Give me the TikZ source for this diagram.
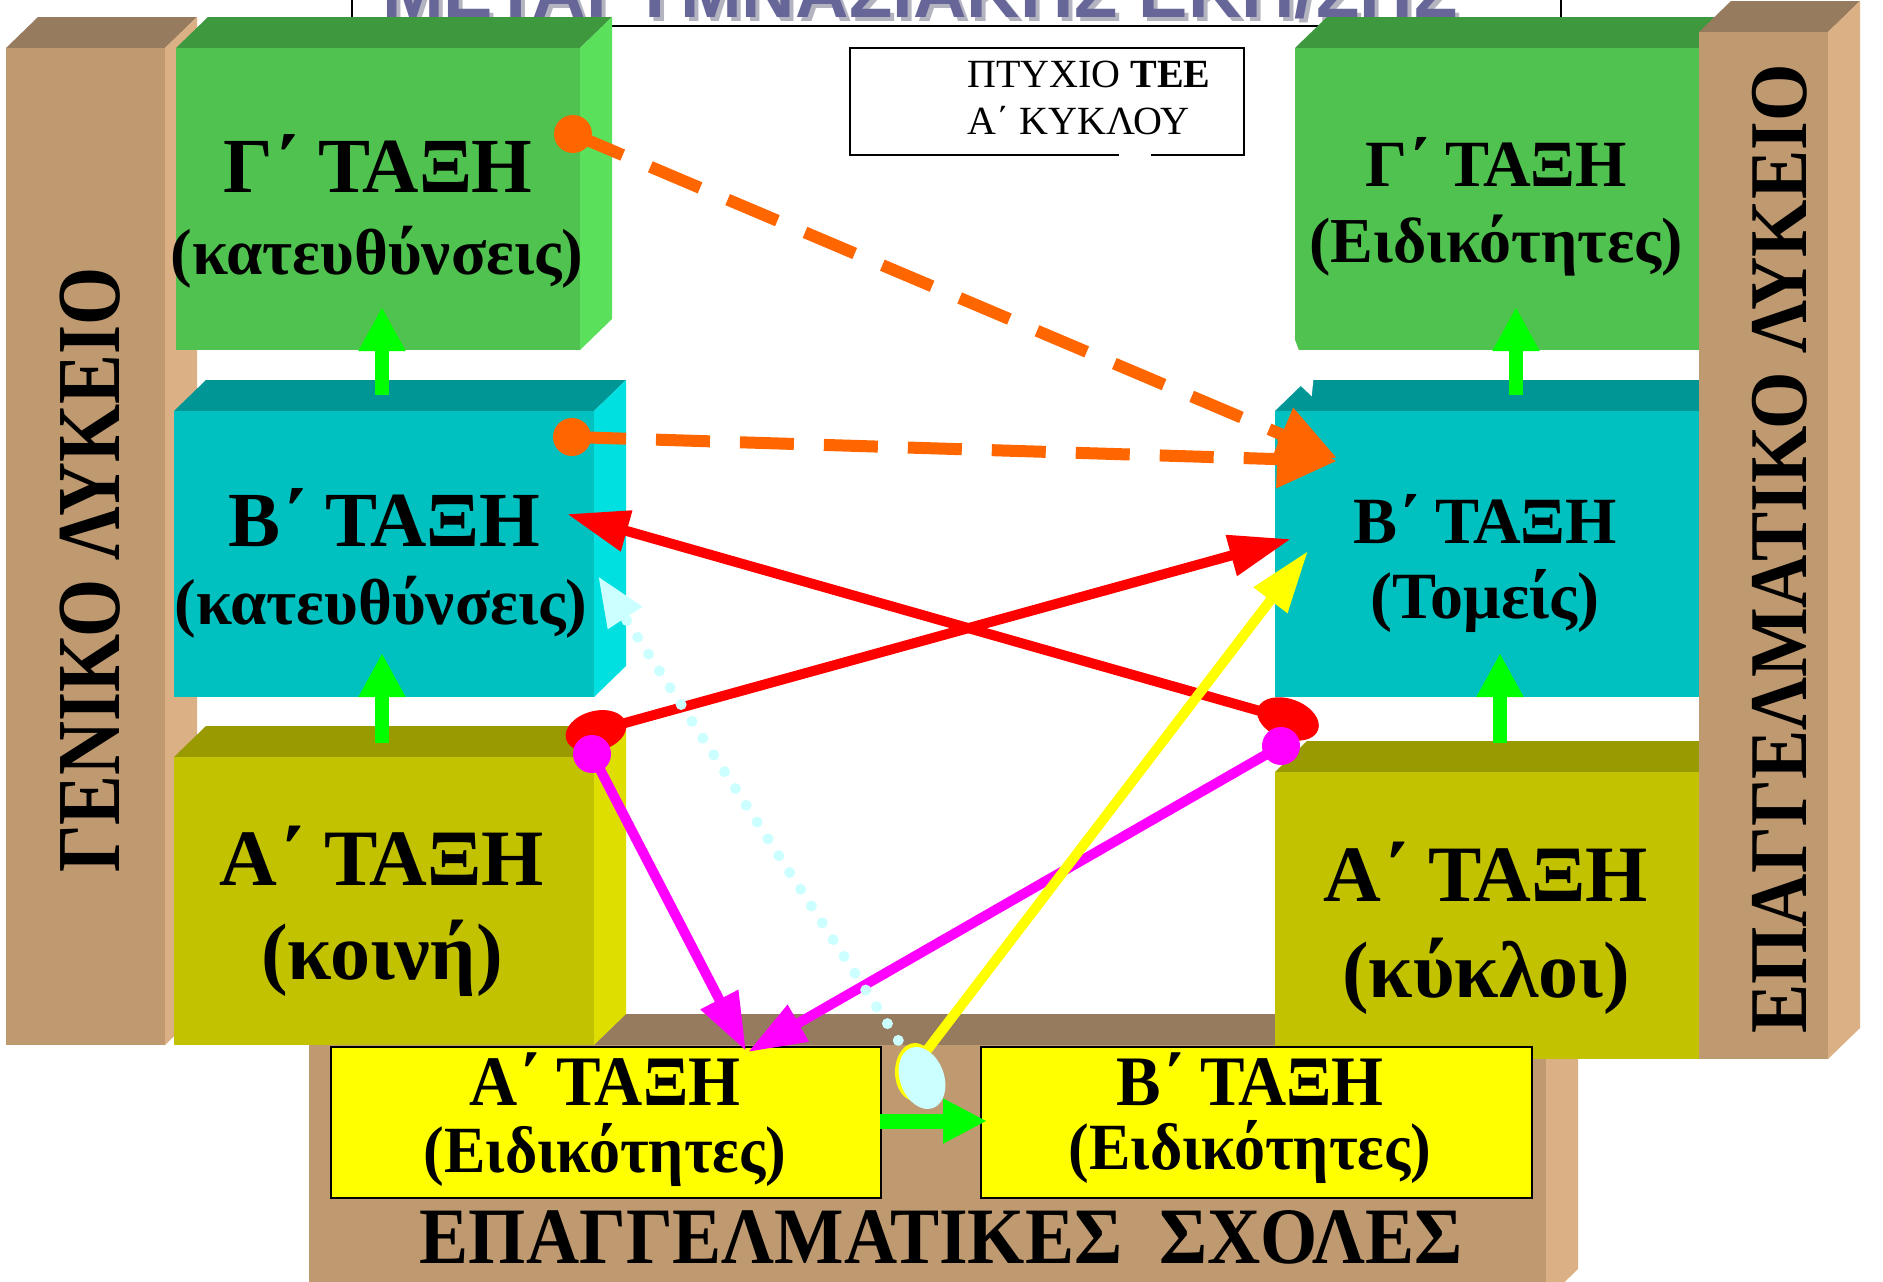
\documentclass[tikz,border=0pt]{standalone}
\usepackage{graphicx}
\usepackage{fontspec}
\setmainfont{Liberation Serif}
\newfontfamily\titlefont{Liberation Sans}
\usetikzlibrary{arrows.meta,shapes.geometric}
\definecolor{gfront}{HTML}{50C24F}
\definecolor{gtop}{HTML}{3E983E}
\definecolor{gside}{HTML}{5BE05B}
\definecolor{tfront}{HTML}{00C0C0}
\definecolor{ttop}{HTML}{009696}
\definecolor{tside}{HTML}{00E0E0}
\definecolor{ofront}{HTML}{C2C200}
\definecolor{otop}{HTML}{999900}
\definecolor{oside}{HTML}{DEDE00}
\definecolor{nfront}{HTML}{BF9A71}
\definecolor{ntop}{HTML}{977B5E}
\definecolor{nside}{HTML}{DAB084}
\definecolor{ybox}{HTML}{FFFF00}
\definecolor{titleblue}{HTML}{666699}
\definecolor{titleshadow}{HTML}{B4B4C0}
\definecolor{arrgreen}{HTML}{00FF00}
\definecolor{arrorange}{HTML}{FF6600}
\definecolor{arrred}{HTML}{FF0000}
\definecolor{arrmag}{HTML}{FF00FF}
\definecolor{arryel}{HTML}{FFFF00}
\definecolor{arrcyan}{HTML}{CCFFFF}
% #1 x1, #2 y1, #3 x2, #4 y2 (front face), #5 front, #6 top, #7 side
\newcommand{\solidbox}[7]{%
  \fill[#6] (#1,#2) -- (#1+32,#2-31) -- (#3+32,#2-31) -- (#3,#2) -- cycle;
  \fill[#7] (#3,#2) -- (#3+32,#2-31) -- (#3+32,#4-31) -- (#3,#4) -- cycle;
  \fill[#5] (#1,#2) rectangle (#3,#4);
}
\tikzset{
  ln/.style={anchor=base, inner sep=0pt},
  bigA/.style={font=\bfseries\fontsize{78}{80}\selectfont},
  bigB/.style={font=\bfseries\fontsize{65}{70}\selectfont},
  smallA/.style={font=\bfseries\fontsize{66}{70}\selectfont},
  greenarr/.style={draw=arrgreen, line width=14pt, -{Triangle[length=44pt,width=44pt]}},
  redarr/.style={draw=arrred, line width=10pt, -{Triangle[length=62pt,width=40pt]}},
  magarr/.style={draw=arrmag, line width=10pt, -{Triangle[length=58pt,width=40pt]}},
  yelarr/.style={draw=arryel, line width=10pt, -{Triangle[length=62pt,width=40pt]}},
  orarr/.style={draw=arrorange, line width=12pt, dash pattern=on 54pt off 30pt, -{Triangle[length=60pt,width=55pt]}},
  cyarr/.style={draw=arrcyan, line width=11pt, line cap=round, dash pattern=on 0pt off 20pt, -{Triangle[length=50pt,width=38pt]}},
}
\begin{document}
\begin{tikzpicture}[x=1pt,y=-1pt]
\useasboundingbox (0,0) rectangle (1883,1282);
\clip (0,0) rectangle (1883,1282);
\fill[white] (0,0) rectangle (1883,1282);

% title (cut off at the top)
\node (titlesh) [ln, text=titleshadow] at (924,21) {\titlefont\bfseries\fontsize{74}{80}\selectfont ΜΕΤΑΓΥΜΝΑΣΙΑΚΗΣ ΕΚΠ/ΣΗΣ};
\node (title) [ln, text=titleblue] at (920,17) {\titlefont\bfseries\fontsize{74}{80}\selectfont ΜΕΤΑΓΥΜΝΑΣΙΑΚΗΣ ΕΚΠ/ΣΗΣ};
\draw[line width=2pt] (352,0) -- (352,26) -- (1561,26) -- (1561,0);

% pillars and blocks
\solidbox{6}{48}{165}{1045}{nfront}{ntop}{nside}
\solidbox{309}{1045}{1546}{1300}{nfront}{ntop}{nside}
\solidbox{176}{48}{580}{350}{gfront}{gtop}{gside}
\solidbox{174}{411}{594}{697}{tfront}{ttop}{tside}
\solidbox{174}{757}{594}{1045}{ofront}{otop}{oside}
\solidbox{1295}{48}{1699}{350}{gfront}{gtop}{gside}
\solidbox{1275}{411}{1699}{697}{tfront}{ttop}{tside}
\solidbox{1275}{772}{1699}{1059}{ofront}{otop}{oside}
\solidbox{1699}{32}{1828}{1059}{nfront}{ntop}{nside}

% yellow boxes
\node (yA) [draw, line width=2pt, fill=ybox, minimum width=550pt, minimum height=151pt, inner sep=0pt, anchor=north west] at (330,1046) {};
\node (yB) [draw, line width=2pt, fill=ybox, minimum width=551pt, minimum height=151pt, inner sep=0pt, anchor=north west] at (980,1046) {};

% vertical labels
\node (genl) [rotate=90, inner sep=0pt] at (90,570) {\bfseries\fontsize{90}{90}\selectfont\scalebox{0.83}[1]{ΓΕΝΙΚΟ ΛΥΚΕΙΟ}};
\node (epal) [rotate=90, inner sep=0pt] at (1780,549) {\bfseries\fontsize{82}{82}\selectfont\scalebox{0.9}[1]{ΕΠΑΓΓΕΛΜΑΤΙΚΟ ΛΥΚΕΙΟ}};
\node (epas) [ln] at (941,1263) {\bfseries\fontsize{80}{80}\selectfont\scalebox{0.92}[1]{ΕΠΑΓΓΕΛΜΑΤΙΚΕΣ\ \ ΣΧΟΛΕΣ}};

% box texts, left column
\node (lg1) [ln, bigA] at (378,192) {Γ΄ ΤΑΞΗ};
\node (lg2) [ln, bigB] at (377,274) {(κατευθύνσεις)};
\node (lb1) [ln, bigA] at (384,546) {Β΄ ΤΑΞΗ};
\node (lb2) [ln, bigB] at (381,624) {(κατευθύνσεις)};
\node (la1) [ln, font=\bfseries\fontsize{80}{80}\selectfont] at (382,885) {Α΄ ΤΑΞΗ};
\node (la2) [ln, font=\bfseries\fontsize{80}{80}\selectfont] at (382,979) {(κοινή)};
% right column
\node (rg1) [ln, smallA] at (1496,186) {Γ΄ ΤΑΞΗ};
\node (rg2) [ln, font=\bfseries\fontsize{64}{70}\selectfont] at (1496,262) {(Ειδικότητες)};
\node (rb1) [ln, smallA] at (1485,543) {Β΄ ΤΑΞΗ};
\node (rb2) [ln, smallA] at (1485,618) {(Τομείς)};
\node (ra1) [ln, font=\bfseries\fontsize{80}{80}\selectfont] at (1486,901) {Α΄ ΤΑΞΗ};
\node (ra2) [ln, font=\bfseries\fontsize{80}{80}\selectfont] at (1486,997) {(κύκλοι)};
% yellow boxes
\node (ya1) [ln, font=\bfseries\fontsize{71}{71}\selectfont] at (605,1105) {\scalebox{0.94}[1]{Α΄ ΤΑΞΗ}};
\node (ya2) [ln, font=\bfseries\fontsize{66}{66}\selectfont] at (605,1172) {\scalebox{0.94}[1]{(Ειδικότητες)}};
\node (yb1) [ln, font=\bfseries\fontsize{71}{71}\selectfont] at (1250,1105) {\scalebox{0.94}[1]{Β΄ ΤΑΞΗ}};
\node (yb2) [ln, font=\bfseries\fontsize{66}{66}\selectfont] at (1250,1169) {\scalebox{0.94}[1]{(Ειδικότητες)}};

% diploma box
\draw[line width=2pt] (1119,155) -- (850,155) -- (850,48) -- (1244,48) -- (1244,155) -- (1151,155);
\node (pt1) [anchor=base west, inner sep=0pt, font=\fontsize{40}{44}\selectfont] at (967,87) {ΠΤΥΧΙΟ \textbf{ΤΕΕ}};
\node (pt2) [anchor=base west, inner sep=0pt, font=\fontsize{40}{44}\selectfont] at (967,134) {Α΄ ΚΥΚΛΟΥ};

% green arrows
\coordinate (gL1) at (382,743); \coordinate (gL1t) at (382,653);
\coordinate (gL2) at (382,395); \coordinate (gL2t) at (382,307);
\coordinate (gR1) at (1500,743); \coordinate (gR1t) at (1500,653);
\coordinate (gR2) at (1516,395); \coordinate (gR2t) at (1516,307);
\coordinate (gB) at (880,1121); \coordinate (gBt) at (987,1121);
\draw[greenarr] (gL1) -- (gL1t);
\draw[greenarr] (gL2) -- (gL2t);
\draw[greenarr] (gR1) -- (gR1t);
\draw[greenarr] (gR2) -- (gR2t);
\draw[greenarr, line width=15pt, -{Triangle[length=44pt,width=42pt]}] (gB) -- (gBt);

% connector end points
\coordinate (oA) at (573,134);  \coordinate (oAt) at (1337,458);
\coordinate (oB) at (572,437);  \coordinate (oBt) at (1337,461);
\coordinate (rL) at (596,731);  \coordinate (rLt) at (1291,539);
\coordinate (rR) at (1288,719); \coordinate (rRt) at (567,514);
\coordinate (mL) at (592,754);  \coordinate (mLt) at (746,1051);
\coordinate (mR) at (1281,746); \coordinate (mRt) at (748,1052);
\coordinate (yS) at (918,1062); \coordinate (ySt) at (1308,551);
\coordinate (cS) at (920,1074); \coordinate (cSt) at (598,576);
\coordinate (wS) at (1290,338); \coordinate (wSt) at (1312,397);

% white arrow (barely visible)
\draw[white, line width=8pt, -{Triangle[length=34pt,width=30pt]}] (wS) -- (wSt);

% red
\draw[redarr] (rL) -- (rLt);
\draw[redarr] (rR) -- (rRt);
\node (rLm) [ellipse, fill=arrred, minimum width=62pt, minimum height=40pt, inner sep=0pt, rotate=15] at (rL) {};
\node (rRm) [ellipse, fill=arrred, minimum width=64pt, minimum height=40pt, inner sep=0pt, rotate=-20] at (rR) {};
% magenta
\draw[magarr] (mL) -- (mLt);
\draw[magarr] (mR) -- (mRt);
\node (mLm) [circle, fill=arrmag, minimum size=38pt, inner sep=0pt] at (mL) {};
\node (mRm) [circle, fill=arrmag, minimum size=38pt, inner sep=0pt] at (mR) {};
% yellow
\draw[yelarr] (yS) -- (ySt);
\node (ySm) [ellipse, fill=arryel, minimum width=40pt, minimum height=58pt, inner sep=0pt] at (915,1072) {};
% light cyan dotted
\draw[cyarr] (cS) -- (cSt);
\node (cSm) [ellipse, fill=arrcyan, minimum width=44pt, minimum height=64pt, inner sep=0pt, rotate=20] at (922,1078) {};
% orange dashed
\draw[orarr] (oA) -- (oAt);
\draw[orarr] (oB) -- (oBt);
\node (oAm) [circle, fill=arrorange, minimum size=38pt, inner sep=0pt] at (oA) {};
\node (oBm) [circle, fill=arrorange, minimum size=38pt, inner sep=0pt] at (oB) {};
\end{tikzpicture}
\end{document}
